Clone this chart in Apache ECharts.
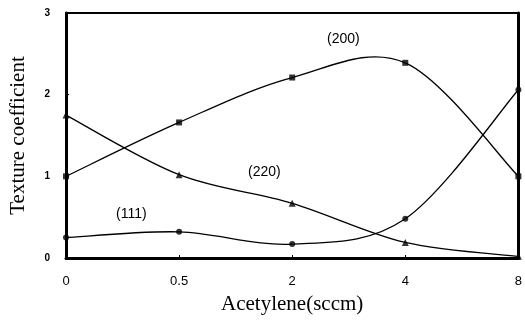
<!DOCTYPE html>
<html>
<head>
<meta charset="utf-8">
<script src="https://cdn.jsdelivr.net/npm/echarts@6/dist/echarts.min.js"></script>
<style>
  html, body { margin: 0; padding: 0; background: #fff; }
  #chart { width: 525px; height: 323px; }
</style>
</head>
<body>
<div id="chart"></div>
<script>
// Acetylene flow rates (sccm), evenly spaced on the axis
const flowRates = ['0', '0.5', '2', '4', '8'];

// Texture coefficients per crystal plane
const tc200 = [1.00, 1.66, 2.21, 2.39, 1.00];
const tc220 = [1.75, 1.02, 0.67, 0.19, 0.02];
const tc111 = [0.25, 0.32, 0.17, 0.48, 2.06];

const yTicks = [0, 1, 2, 3];

const chart = echarts.init(document.getElementById('chart'), null, { renderer: 'canvas' });

// Catmull-Rom curve through the points, drawn one segment per data item
function curveSeries(values) {
  return {
    type: 'custom',
    data: values.map((v, i) => [i, v]),
    encode: { x: 0, y: 1 },
    silent: true,
    z: 2,
    renderItem: function (params, api) {
      const i = params.dataIndex;
      if (i >= values.length - 1) return null;
      const p = k => api.coord([Math.max(0, Math.min(values.length - 1, k)), values[Math.max(0, Math.min(values.length - 1, k))]]);
      const p0 = p(i - 1), p1 = p(i), p2 = p(i + 1), p3 = p(i + 2);
      const c1 = [p1[0] + (p2[0] - p0[0]) / 6, p1[1] + (p2[1] - p0[1]) / 6];
      const c2 = [p2[0] - (p3[0] - p1[0]) / 6, p2[1] - (p3[1] - p1[1]) / 6];
      return {
        type: 'bezierCurve',
        shape: { x1: p1[0], y1: p1[1], cpx1: c1[0], cpy1: c1[1], cpx2: c2[0], cpy2: c2[1], x2: p2[0], y2: p2[1] },
        style: { stroke: '#000', lineWidth: 1.3, fill: null }
      };
    }
  };
}

function markerSeries(name, values, symbol, size) {
  return {
    name: name,
    type: 'scatter',
    data: values,
    symbol: symbol,
    symbolSize: size,
    itemStyle: { color: '#000' },
    z: 3
  };
}

chart.setOption({
  animation: false,
  grid: {
    left: 61, right: 4, top: 13, bottom: 65,
    show: true, borderColor: '#000', borderWidth: 2
  },
  xAxis: {
    type: 'category',
    data: flowRates,
    boundaryGap: false,
    name: 'Acetylene(sccm)',
    nameLocation: 'middle',
    nameGap: 36,
    nameTextStyle: { fontFamily: 'Liberation Serif', fontSize: 21, color: '#000' },
    axisLine: { lineStyle: { color: '#000', width: 3 } },
    axisTick: { show: true, inside: true, length: 3, lineStyle: { color: '#000' } },
    axisLabel: { fontFamily: 'Liberation Sans', fontSize: 13, color: '#000', margin: 17 },
    splitLine: { show: false }
  },
  yAxis: [{
    type: 'value',
    min: 0, max: 3, interval: 1,
    name: 'Texture coefficient',
    nameLocation: 'middle',
    nameGap: 37,
    nameTextStyle: { fontFamily: 'Liberation Serif', fontSize: 21, color: '#000' },
    axisLine: { show: true, lineStyle: { color: '#000', width: 3 } },
    axisTick: { show: true, inside: true, length: 3, lineStyle: { color: '#000' } },
    axisLabel: {
      fontFamily: 'Liberation Sans', fontSize: 10, fontWeight: 'bold', color: '#000', margin: 16,
      formatter: v => (yTicks.indexOf(v) >= 0 ? String(v) : '')
    },
    splitLine: { show: false }
  }, {
    type: 'value',
    position: 'right',
    min: 0, max: 3, interval: 1,
    axisLine: { show: true, lineStyle: { color: '#000', width: 3 } },
    axisTick: { show: false },
    axisLabel: { show: false },
    splitLine: { show: false }
  }],
  series: [
    curveSeries(tc200),
    curveSeries(tc220),
    curveSeries(tc111),
    markerSeries('(200)', tc200, 'rect', 6),
    markerSeries('(220)', tc220, 'triangle', 7),
    markerSeries('(111)', tc111, 'circle', 6)
  ],
  graphic: [
    { type: 'text', left: 327, top: 32, style: { text: '(200)', fontFamily: 'Liberation Sans', fontSize: 14, fill: '#000' } },
    { type: 'text', left: 248, top: 165, style: { text: '(220)', fontFamily: 'Liberation Sans', fontSize: 14, fill: '#000' } },
    { type: 'text', left: 116, top: 207, style: { text: '(111)', fontFamily: 'Liberation Sans', fontSize: 14, fill: '#000' } }
  ]
});
</script>
</body>
</html>
